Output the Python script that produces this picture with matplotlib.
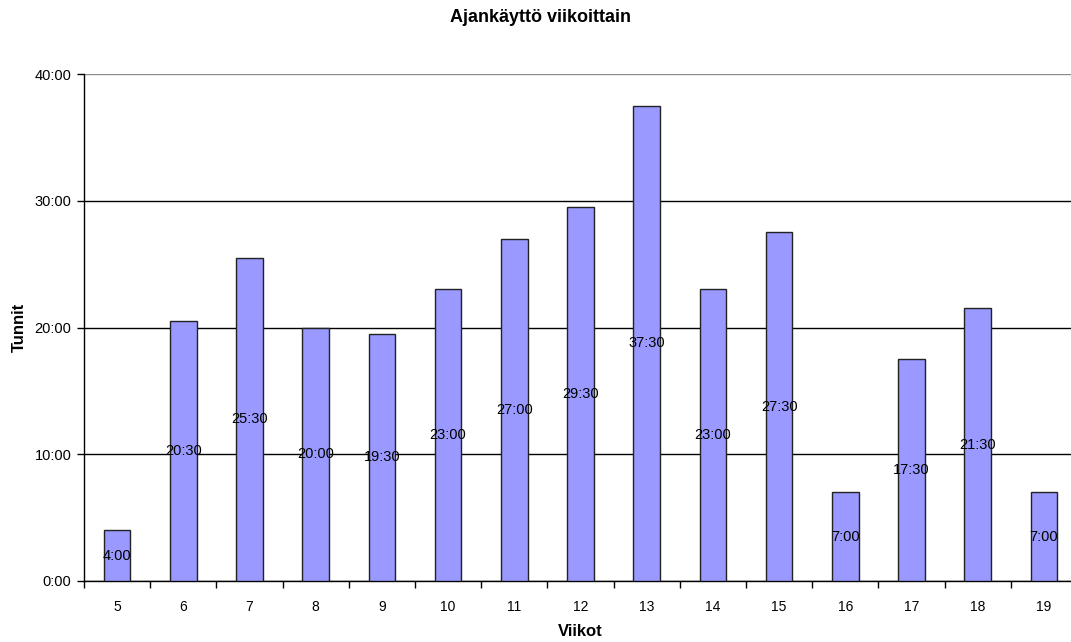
"""Weekly time usage bar chart (Excel style)."""

import matplotlib

matplotlib.use("Agg")
import matplotlib.pyplot as plt
import numpy as np
from matplotlib.ticker import FixedLocator, FuncFormatter

WEEKS = [5, 6, 7, 8, 9, 10, 11, 12, 13, 14, 15, 16, 17, 18, 19]
HOURS = [4.0, 20.5, 25.5, 20.0, 19.5, 23.0, 27.0, 29.5, 37.5, 23.0, 27.5, 7.0, 17.5, 21.5, 7.0]
Y_TICKS = [0, 10, 20, 30, 40]

TITLE = "Ajankäyttö viikoittain"
X_LABEL = "Viikot"
Y_LABEL = "Tunnit"

BAR_COLOR = "#9999FF"


def hhmm(value: float) -> str:
    h = int(value)
    m = int(round((value - h) * 60))
    return f"{h}:{m:02d}"


plt.rcParams["font.family"] = ["Liberation Sans", "DejaVu Sans"]

W, H = 1071, 642
fig = plt.figure(figsize=(W / 100, H / 100), dpi=100)
# plot area runs past the right edge of the image, as in the original
ax = fig.add_axes([84 / W, 61 / H, 993 / W, 507 / H])

x = np.arange(len(WEEKS))
ax.bar(x, HOURS, width=0.4, color=BAR_COLOR, edgecolor="#222222", linewidth=1.0, zorder=3)
for xi, v in zip(x, HOURS):
    ax.text(xi, v / 2, hhmm(v), ha="center", va="center", fontsize=10.5, zorder=4)

ax.set_xlim(-0.5, len(WEEKS) - 0.5)
ax.set_ylim(0, 40)
ax.set_yticks(Y_TICKS)
ax.yaxis.set_major_formatter(FuncFormatter(lambda v, _: hhmm(v)))
ax.grid(axis="y", color="black", linewidth=1.0, zorder=1)
# top gridline renders lighter in the original
ax.get_ygridlines()[-1].set_color("#8c8c8c")

ax.set_xticks(x)
ax.set_xticklabels([str(w) for w in WEEKS])
ax.xaxis.set_minor_locator(FixedLocator(np.arange(-0.5, len(WEEKS), 1.0)))
ax.tick_params(axis="x", which="major", length=0, pad=14, labelsize=10)
ax.tick_params(axis="x", which="minor", length=5, width=1.0, direction="out")
ax.tick_params(axis="y", length=5, width=1.0, direction="out", labelsize=10.5, pad=4)

for side in ("top", "right"):
    ax.spines[side].set_visible(False)
ax.spines["left"].set_linewidth(1.0)
ax.spines["bottom"].set_linewidth(1.0)

fig.text(540 / W, 1 - 18 / H, TITLE, ha="center", va="center", fontsize=13, fontweight="bold")
fig.text(580 / W, 1 - 632 / H, X_LABEL, ha="center", va="center", fontsize=12, fontweight="bold")
fig.text(19 / W, 1 - 327 / H, Y_LABEL, ha="center", va="center", rotation=90, fontsize=12, fontweight="bold")

fig.savefig("out.png", dpi=100)
